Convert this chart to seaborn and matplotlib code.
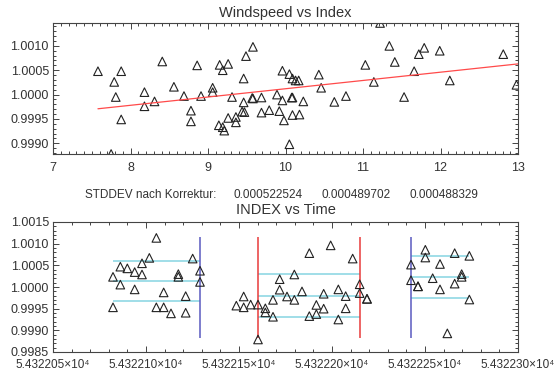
import numpy as np
import pandas as pd
import matplotlib
matplotlib.use("Agg")
import matplotlib.pyplot as plt
from matplotlib.ticker import MultipleLocator, FuncFormatter
import seaborn as sns

# --- Windspeed vs Index ---
wind_speed = [7.58, 7.79, 7.81, 7.88, 7.88, 7.75, 8.18, 8.18, 8.31, 8.41, 8.56, 8.69,
              8.78, 8.78, 8.86, 8.91, 9.06, 9.06, 9.15, 9.19, 9.26, 9.14, 9.19, 9.21,
              9.26, 9.31, 9.36, 9.36, 9.44, 9.46, 9.46, 9.49, 9.47, 9.58, 9.57, 9.58,
              9.69, 9.69, 9.79, 9.89, 9.92, 9.96, 9.96, 9.98, 10.05, 10.09, 10.13, 10.17,
              10.08, 10.09, 10.09, 10.18, 10.23, 10.05, 10.43, 10.46, 10.63, 10.78, 11.03,
              11.14, 11.22, 11.34, 11.41, 11.53, 11.66, 11.72, 11.79, 11.99, 12.12, 12.81,
              12.98]
index_wind = [1.00048, 1.00026, 0.99995, 1.00048, 0.99949, 0.99878, 1.00005, 0.99976,
              0.99986, 1.00068, 1.00016, 0.99997, 0.99967, 0.99945, 1.00060, 0.99997,
              1.00014, 1.00005, 1.00061, 1.00050, 1.00063, 0.99937, 0.99933, 0.99926,
              0.99952, 0.99995, 0.99954, 0.99943, 0.99965, 0.99984, 1.00033, 1.00079,
              0.99964, 1.00098, 0.99993, 0.99992, 0.99994, 0.99963, 0.99968, 1.00000,
              0.99966, 1.00049, 0.99988, 0.99947, 1.00042, 1.00033, 1.00029, 1.00029,
              0.99994, 0.99994, 0.99958, 0.99959, 0.99986, 0.99898, 1.00041, 1.00014,
              0.99985, 0.99997, 1.00061, 1.00026, 1.00147, 1.00100, 1.00067, 0.99995,
              1.00048, 1.00083, 1.00096, 1.00090, 1.00029, 1.00083, 1.00020]
fit_intercept = 0.99842
fit_slope = 0.00017
fit_x = [7.58, 13.0]

# --- INDEX vs Time (MJD) ---
time_1 = [54322.08226, 54322.08226, 54322.08620, 54322.08620, 54322.08996,
          54322.09391, 54322.09391, 54322.09785, 54322.09785, 54322.10179,
          54322.10556, 54322.10556, 54322.10950, 54322.10950, 54322.11344,
          54322.11738, 54322.11738, 54322.12133, 54322.12133, 54322.12509,
          54322.12903, 54322.12903]
index_1 = [1.000234, 0.999531, 1.000055, 1.000469, 1.000430,
           1.000344, 0.999945, 1.000547, 1.000289, 1.000672,
           1.001133, 0.999531, 0.999875, 0.999531, 0.999391,
           1.000297, 1.000234, 0.999789, 0.999406, 1.000656,
           1.000375, 1.000117]
time_2 = [54322.14857, 54322.15251, 54322.15251, 54322.15627, 54322.16022,
          54322.16022, 54322.16416, 54322.16416, 54322.16828, 54322.16828,
          54322.17186, 54322.17186, 54322.17581, 54322.17975, 54322.17975,
          54322.18387, 54322.18781, 54322.18781, 54322.19158, 54322.19158,
          54322.19552, 54322.19552, 54322.19928, 54322.20341, 54322.20341,
          54322.20735, 54322.20735, 54322.21111, 54322.21487, 54322.21487,
          54322.21882, 54322.21882]
index_2 = [0.999570, 0.999781, 0.999531, 0.999594, 0.999594,
           0.998789, 0.999508, 0.999414, 0.999703, 0.999313,
           1.000180, 0.999938, 0.999781, 1.000289, 0.999703,
           0.999898, 1.000781, 0.999328, 0.999586, 0.999375,
           0.999844, 0.999500, 1.000961, 0.999945, 0.999250,
           0.999789, 0.999508, 1.000656, 1.000063, 0.999859,
           0.999727, 0.999727]
time_3 = [54322.24247, 54322.24247, 54322.24624, 54322.24624, 54322.25018,
          54322.25018, 54322.25412, 54322.25806, 54322.25806, 54322.26201,
          54322.26595, 54322.26595, 54322.26971, 54322.26971, 54322.27384,
          54322.27384]
index_3 = [1.000516, 1.000156, 1.000016, 1.000016, 1.000859,
           1.000680, 1.000203, 1.000531, 0.999945, 0.998930,
           1.000781, 1.000078, 1.000297, 1.000234, 1.000719,
           0.999711]

seg_start = [54322.08226, 54322.16022, 54322.24247]
seg_end = [54322.12921, 54322.21487, 54322.27384]
seg_levels = [[1.000602, 1.000141, 0.999672],
              [1.000289, 0.999797, 0.999313],
              [1.000719, 1.000234, 0.999750]]
marker_times = [54322.12921, 54322.16022, 54322.21487, 54322.24247]
marker_colors = ["#5a5ac0", "#e83a3a", "#e83a3a", "#5a5ac0"]
marker_range = [0.998813, 1.001156]

stddev_vals = ["0.000522524", "0.000489702", "0.000488329"]

sns.set_style("ticks")
plt.rcParams["font.family"] = ["Liberation Sans", "DejaVu Sans"]
txt = "#333333"
edge = "#444444"

fig = plt.figure(figsize=(5.59, 3.76), dpi=100)
ax1 = fig.add_axes([53 / 559, 1 - 154 / 376, 465 / 559, 131 / 376])
ax2 = fig.add_axes([53 / 559, 1 - 352 / 376, 465 / 559, 130 / 376])

top_df = pd.DataFrame({"wind": wind_speed, "index": index_wind})
sns.scatterplot(data=top_df, x="wind", y="index", marker="^", s=38,
                facecolor="none", edgecolor="#222222", linewidth=0.8, ax=ax1)
fx = np.array(fit_x)
sns.lineplot(x=fx, y=fit_intercept + fit_slope * fx, color="#ff4a4a",
             linewidth=0.9, ax=ax1)
ax1.set_xlim(7, 13)
ax1.set_ylim(min(index_wind), max(index_wind))
ax1.xaxis.set_major_locator(MultipleLocator(1))
ax1.xaxis.set_minor_locator(MultipleLocator(0.1))
ax1.yaxis.set_major_locator(MultipleLocator(0.0005))
ax1.yaxis.set_minor_locator(MultipleLocator(0.0001))
ax1.yaxis.set_major_formatter(FuncFormatter(lambda v, p: f"{v:.4f}"))

bot_df = pd.DataFrame({"time": time_1 + time_2 + time_3,
                       "index": index_1 + index_2 + index_3})
for s0, s1, lv in zip(seg_start, seg_end, seg_levels):
    ax2.hlines(lv, s0, s1, color="#86d4e2", linewidth=1.1, zorder=1)
ax2.vlines(marker_times, marker_range[0], marker_range[1], colors=marker_colors,
           linewidth=1.1, zorder=1)
sns.scatterplot(data=bot_df, x="time", y="index", marker="^", s=38,
                facecolor="none", edgecolor="#222222", linewidth=0.8, ax=ax2,
                zorder=3)
ax2.set_xlim(54322.05, 54322.30)
ax2.set_ylim(0.9985, 1.0015)
ax2.xaxis.set_major_locator(MultipleLocator(0.05))
ax2.xaxis.set_minor_locator(MultipleLocator(0.01))
ax2.yaxis.set_major_locator(MultipleLocator(0.0005))
ax2.yaxis.set_minor_locator(MultipleLocator(0.0001))
ax2.yaxis.set_major_formatter(FuncFormatter(lambda v, p: f"{v:.4f}"))
ax2.xaxis.set_major_formatter(FuncFormatter(lambda v, p: f"{v / 1e4:.6f}×10⁴"))

for ax in (ax1, ax2):
    ax.set_xlabel("")
    ax.set_ylabel("")
    ax.tick_params(which="both", direction="in", top=True, right=True,
                   colors=edge, labelcolor=txt, width=0.7)
    ax.tick_params(which="major", length=4.5)
    ax.tick_params(which="minor", length=2.2)
    ax.tick_params(axis="y", labelsize=9, pad=3)
    ax.tick_params(axis="x", labelsize=9, pad=6)
    for sp in ax.spines.values():
        sp.set_color(edge)
        sp.set_linewidth(0.8)
ax2.tick_params(axis="x", labelsize=8.5, pad=5)

fig.text(285.5 / 559, 1 - 12.5 / 376, "Windspeed vs Index", ha="center",
         va="center", fontsize=10.5, color=txt)
fig.text(85 / 559, 1 - 195 / 376, "STDDEV nach Korrektur:", ha="left",
         va="center", fontsize=8.5, color=txt)
for xp, val in zip([233, 322, 410], stddev_vals):
    fig.text(xp / 559, 1 - 195 / 376, val, ha="left", va="center",
             fontsize=8.5, color=txt)
fig.text(285.5 / 559, 1 - 210 / 376, "INDEX vs Time", ha="center",
         va="center", fontsize=10.5, color=txt)

fig.savefig("out.png", dpi=100)
